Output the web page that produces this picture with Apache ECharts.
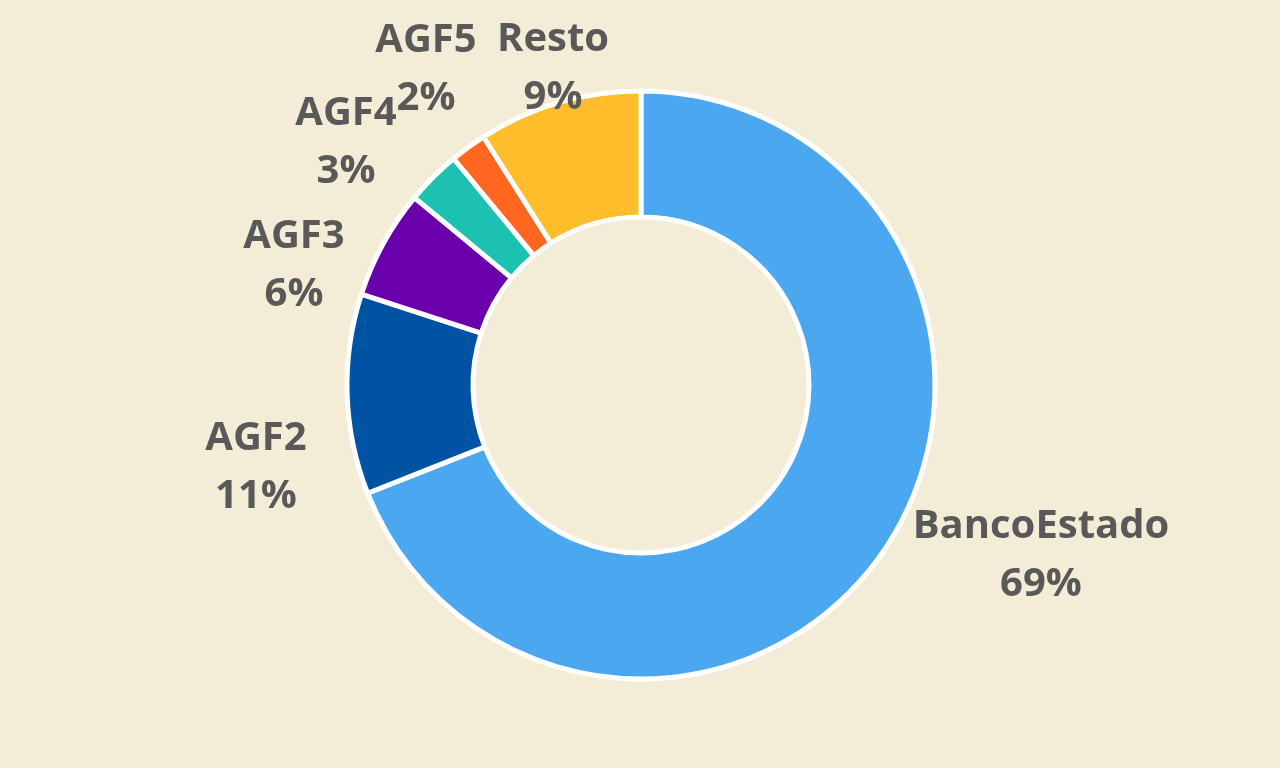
<!DOCTYPE html>
<html>
<head>
<meta charset="utf-8">
<script src="https://cdn.jsdelivr.net/npm/echarts@6/dist/echarts.min.js"></script>
<style>
  html, body { margin: 0; padding: 0; background: #f3ecd6; }
  #chart { width: 1280px; height: 768px; }
</style>
</head>
<body>
<div id="chart"></div>
<script>
// datos del gráfico
var nombres = ['BancoEstado', 'AGF2', 'AGF3', 'AGF4', 'AGF5', 'Resto']
var valores = [69, 11, 6, 3, 2, 9]
var colores = ['#4ba8f0', '#0052a3', '#6a00ab', '#1dc1b1', '#ff6620', '#ffbc2b']

// posición de cada etiqueta (centro del bloque de texto)
var posEtiquetas = [
  [1041, 556],
  [256, 468],
  [294, 266],
  [346, 143],
  [426, 70],
  [553, 69]
]

var data = []
for (var i = 0; i < nombres.length; i++) {
  data.push({ name: nombres[i], value: valores[i], itemStyle: { color: colores[i] } })
}

var myChart = echarts.init(document.getElementById('chart'))
var option = {
  backgroundColor: '#f3ecd6',
  animation: false,
  series: [
    {
      type: 'pie',
      center: [641, 385],
      radius: [168, 294],
      startAngle: 90,
      clockwise: true,
      itemStyle: {
        borderColor: '#ffffff',
        borderWidth: 5
      },
      label: {
        show: true,
        position: 'outside',
        formatter: '{b}\n{c}%',
        color: '#595959',
        fontFamily: 'Open Sans',
        fontWeight: 'bold',
        fontSize: 40,
        lineHeight: 58,
        align: 'center'
      },
      labelLine: { show: false },
      labelLayout: function (params) {
        var p = posEtiquetas[params.dataIndex]
        return { x: p[0], y: p[1], align: 'center', verticalAlign: 'middle' }
      },
      data: data
    }
  ]
}
myChart.setOption(option)
</script>
</body>
</html>
